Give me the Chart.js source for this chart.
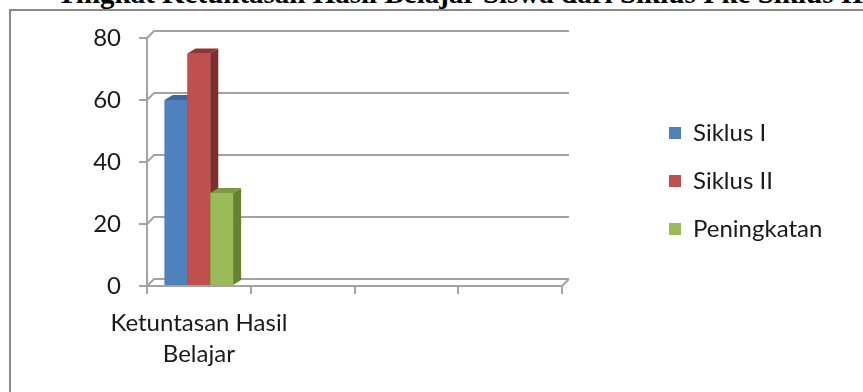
<!DOCTYPE html>
<html><head><meta charset="utf-8">
<script src="https://cdn.jsdelivr.net/npm/chart.js@4.4.1/dist/chart.umd.min.js"></script>
<style>
html,body{margin:0;padding:0;background:#fff;}
#wrap{position:relative;width:863px;height:392px;overflow:hidden;background:#fff;}
#title{position:absolute;left:57px;top:-21px;white-space:nowrap;font:bold 29px "Liberation Serif","Times New Roman",serif;line-height:29px;color:#000;}
#frame{position:absolute;left:9px;top:9px;width:900px;height:400px;border-left:2px solid #8a8a8a;border-top:2px solid #8a8a8a;}
canvas{position:absolute;left:0;top:0;}
</style></head>
<body><div id="wrap">
<div id="title">Tingkat Ketuntasan Hasil Belajar Siswa dari Siklus I ke Siklus II</div>
<div id="frame"></div>
<canvas id="c" width="863" height="392"></canvas>
</div>
<script>
const categories = [["Ketuntasan Hasil", "Belajar"], "", "", ""];
const seriesNames = ["Siklus I", "Siklus II", "Peningkatan"];
const siklusI = [60, null, null, null];
const siklusII = [75, null, null, null];
const peningkatan = [30, null, null, null];
const yMin = 0, yMax = 80, yStep = 20;

const frontColors = ["#4F81BD", "#C0504D", "#9BBB59"];
const topColors = ["#3E6797", "#8E3533", "#7A9A40"];
const sideColors = ["#385D8A", "#7E2F2D", "#66812F"];
const BAR_DX = 8, BAR_DY = 5, WALL_DX = 7, WALL_DY = 7;
const GRID = "#a3a3a3";
const FONT = "Lato, Carlito, 'Open Sans', sans-serif";
const TEXT = "#1a1a1a";

const threeD = {
  id: 'threeD',
  beforeDatasetsDraw(chart) {
    const {ctx, chartArea: {left, right}, scales: {y}} = chart;
    ctx.save();
    ctx.strokeStyle = GRID; ctx.lineWidth = 2;
    y.ticks.forEach(t => {
      const py = y.getPixelForValue(t.value);
      ctx.beginPath();
      ctx.moveTo(left, py); ctx.lineTo(left + WALL_DX, py - WALL_DY); ctx.lineTo(right + WALL_DX, py - WALL_DY);
      if (t.value === yMin) { ctx.moveTo(right, py); ctx.lineTo(right + WALL_DX, py - WALL_DY); }
      ctx.stroke();
    });
    ctx.restore();
  },
  afterDatasetsDraw(chart) {
    const ctx = chart.ctx;
    ctx.save();
    chart.data.datasets.forEach((ds, i) => {
      const meta = chart.getDatasetMeta(i);
      meta.data.forEach((bar, j) => {
        if (ds.data[j] == null) return;
        const {x, y, base, width} = bar.getProps(['x', 'y', 'base', 'width'], true);
        const l = x - width / 2, r = x + width / 2;
        ctx.fillStyle = frontColors[i];
        ctx.fillRect(l, y, width, base - y);
        ctx.fillStyle = topColors[i];
        ctx.beginPath();
        ctx.moveTo(l, y); ctx.lineTo(l + BAR_DX, y - BAR_DY); ctx.lineTo(r + BAR_DX, y - BAR_DY); ctx.lineTo(r, y);
        ctx.closePath(); ctx.fill();
        ctx.fillStyle = sideColors[i];
        ctx.beginPath();
        ctx.moveTo(r, y); ctx.lineTo(r + BAR_DX, y - BAR_DY); ctx.lineTo(r + BAR_DX, base - BAR_DY); ctx.lineTo(r, base);
        ctx.closePath(); ctx.fill();
      });
    });
    ctx.restore();
  }
};

const legendPlace = {
  id: 'legendPlace',
  afterLayout(chart) {
    const lg = chart.legend;
    if (!lg) return;
    const h = lg.height;
    lg.left = 645; lg.top = 97;
    lg.right = 863; lg.bottom = 97 + Math.max(h, 200);
  }
};

new Chart(document.getElementById('c'), {
  type: 'bar',
  data: {
    labels: categories,
    datasets: [
      {label: seriesNames[0], data: siklusI, backgroundColor: frontColors[0]},
      {label: seriesNames[1], data: siklusII, backgroundColor: frontColors[1]},
      {label: seriesNames[2], data: peningkatan, backgroundColor: frontColors[2]}
    ]
  },
  options: {
    responsive: false,
    animation: false,
    devicePixelRatio: 1,
    layout: {padding: {left: 0, top: 38, right: 301, bottom: 0}},
    datasets: {bar: {barPercentage: 1, categoryPercentage: 0.66, borderWidth: 0}},
    plugins: {
      title: {display: false},
      tooltip: {enabled: false},
      legend: {
        position: 'chartArea',
        align: 'start',
        labels: {boxWidth: 12, boxHeight: 12, padding: 24, color: TEXT, font: {family: FONT, size: 24}}
      }
    },
    scales: {
      x: {
        afterFit(s) { s.height = 106; },
        grid: {drawOnChartArea: false, drawTicks: true, tickLength: 8, color: GRID, lineWidth: 2},
        border: {display: true, color: GRID, width: 2},
        ticks: {color: TEXT, maxRotation: 0, autoSkip: false, padding: 13, font: {family: FONT, size: 24, lineHeight: 1.32}}
      },
      y: {
        min: yMin, max: yMax,
        afterFit(s) { s.width = 147; },
        grid: {drawOnChartArea: false, drawTicks: true, tickLength: 8, color: GRID, lineWidth: 2},
        border: {display: true, color: GRID, width: 2},
        ticks: {stepSize: yStep, color: TEXT, padding: 18, font: {family: FONT, size: 24}}
      }
    }
  },
  plugins: [threeD, legendPlace]
});
</script>
</body></html>
